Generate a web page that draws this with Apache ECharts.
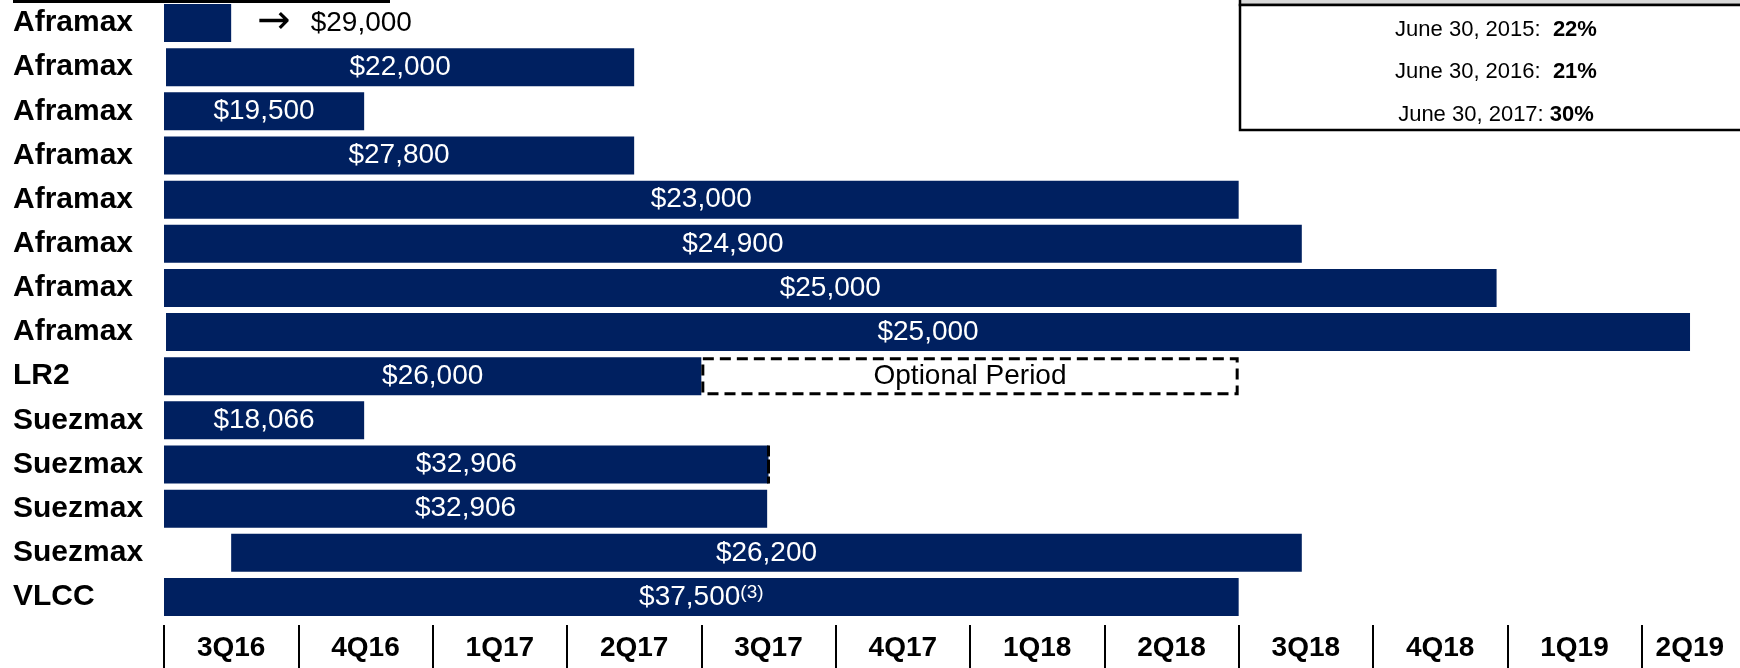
<!DOCTYPE html>
<html>
<head>
<meta charset="utf-8">
<script src="https://cdn.jsdelivr.net/npm/echarts@6/dist/echarts.min.js"></script>
<style>
html,body{margin:0;padding:0;background:#fff;}
#chart{width:1740px;height:668px;}
</style>
</head>
<body>
<div id="chart"></div>
<script>
// ---- data ----
const categories = ['Aframax','Aframax','Aframax','Aframax','Aframax','Aframax','Aframax','Aframax','LR2','Suezmax','Suezmax','Suezmax','Suezmax','VLCC'];
const rates = ['$29,000','$22,000','$19,500','$27,800','$23,000','$24,900','$25,000','$25,000','$26,000','$18,066','$32,906','$32,906','$26,200','$37,500'];
const footnotes = ['','','','','','','','','','','','','','(3)'];
// charter start / end, in quarters counted from the start of 3Q16
const startQ = [0, 0.015, 0, 0, 0, 0, 0, 0.015, 0, 0, 0, 0, 0.5, 0];
const endQ = [0.5, 3.5, 1.49, 3.5, 8.0, 8.47, 9.92, 11.36, 4.0, 1.49, 4.5, 4.49, 8.47, 8.0];
const optionalEndQ = [null, null, null, null, null, null, null, null, 8.0, null, 4.5, null, null, null];
const optionalLabels = ['', '', '', '', '', '', '', '', 'Optional Period', '', '', '', '', ''];
const quarters = ['3Q16','4Q16','1Q17','2Q17','3Q17','4Q17','1Q18','2Q18','3Q18','4Q18','1Q19','2Q19'];
const boxDates = ['June 30, 2015:  ', 'June 30, 2016:  ', 'June 30, 2017: '];
const boxPcts = ['22%', '21%', '30%'];

// ---- chart ----
const FONT = "'Liberation Sans', Arial, sans-serif";
const NAVY = '#002060';
const chart = echarts.init(document.getElementById('chart'), null, {renderer: 'canvas'});

const durations = endQ.map((e, i) => e - startQ[i]);
const optionalDur = optionalEndQ.map((o, i) => (o == null ? null : o - endQ[i]));

const charterData = durations.map((d, i) => {
  const item = {value: d};
  if (i === 0) {
    item.label = {
      position: 'right', distance: 26, color: '#000',
      formatter: () => '{arr|→}{v|' + rates[0] + '}',
      rich: {
        arr: {fontSize: 40, fontFamily: "'DejaVu Sans', sans-serif", color: '#000', padding: [0, 20, 0, 0]},
        v: {fontSize: 28, fontFamily: FONT, color: '#000'}
      }
    };
  }
  return item;
});

const option = {
  animation: false,
  backgroundColor: '#fff',
  grid: {left: 164, right: -36, top: 1, bottom: 49, containLabel: false, outerBoundsMode: 'none'},
  xAxis: [
    {type: 'value', min: 0, max: 12, interval: 1, show: false, splitLine: {show: false}},
    {
      type: 'category', data: quarters.map((q, i) => i === quarters.length - 1
        ? {value: q, textStyle: {padding: [0, 38, 0, 0]}} : q),
      position: 'bottom', offset: 6,
      axisLine: {show: false},
      axisTick: {show: true, length: 43, alignWithLabel: false, interval: 0, lineStyle: {color: '#000', width: 2}},
      axisLabel: {interval: 0, margin: 9, fontFamily: FONT, fontWeight: 'bold', fontSize: 28, color: '#000'},
      splitLine: {show: false}
    }
  ],
  yAxis: {
    type: 'category', data: categories, inverse: true,
    axisLine: {show: false}, axisTick: {show: false}, splitLine: {show: false},
    axisLabel: {interval: 0, align: 'left', margin: 151, fontFamily: FONT, fontWeight: 'bold', fontSize: 30, color: '#000'}
  },
  series: [
    {
      name: 'base', type: 'bar', stack: 'g', xAxisIndex: 0, barWidth: 38, silent: true,
      itemStyle: {color: 'rgba(0,0,0,0)'}, data: startQ
    },
    {
      name: 'charter', type: 'bar', stack: 'g', xAxisIndex: 0, barWidth: 38,
      itemStyle: {color: NAVY},
      label: {
        show: true, position: 'inside',
        formatter: p => '{v|' + rates[p.dataIndex] + '}' + (footnotes[p.dataIndex] ? '{sup|' + footnotes[p.dataIndex] + '}' : ''),
        rich: {
          v: {fontSize: 28, fontFamily: FONT, color: '#fff'},
          sup: {fontSize: 19, fontFamily: FONT, color: '#fff', verticalAlign: 'top'}
        }
      },
      data: charterData
    },
    {
      name: 'optional', type: 'bar', stack: 'g', xAxisIndex: 0, barWidth: 38,
      itemStyle: {color: '#fff', borderColor: '#000', borderWidth: 3, borderType: [11, 6]},
      label: {
        show: true, position: 'inside', color: '#000', fontSize: 28, fontFamily: FONT,
        formatter: p => optionalLabels[p.dataIndex]
      },
      data: optionalDur
    }
  ],
  graphic: [
    {type: 'rect', shape: {x: 13, y: 0, width: 377, height: 3}, style: {fill: '#000'}},
    {type: 'rect', shape: {x: 1240, y: -10, width: 600, height: 15}, style: {fill: '#d9d9d9', stroke: '#000', lineWidth: 2.5}},
    {type: 'rect', shape: {x: 1240, y: 5, width: 600, height: 125}, style: {fill: '#fff', stroke: '#000', lineWidth: 2.5}}
  ].concat(boxDates.map((d, i) => ({
    type: 'text', x: 1496, y: [30, 72, 115][i],
    style: {
      text: '{n|' + d + '}{b|' + boxPcts[i] + '}',
      align: 'center', verticalAlign: 'middle',
      rich: {
        n: {fontSize: 22, fontFamily: FONT, fill: '#000'},
        b: {fontSize: 22, fontFamily: FONT, fontWeight: 'bold', fill: '#000'}
      }
    }
  })))
};
chart.setOption(option);
</script>
</body>
</html>
